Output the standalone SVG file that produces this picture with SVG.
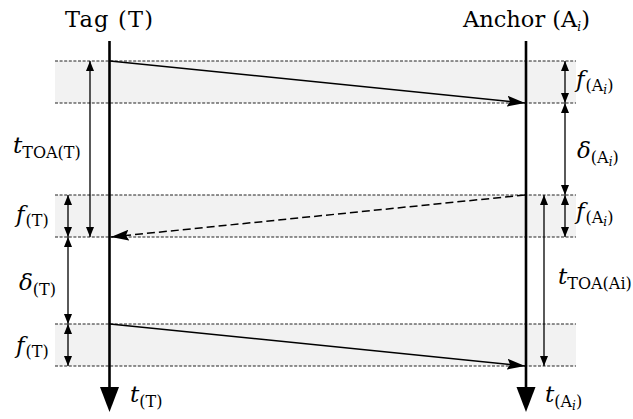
<svg xmlns="http://www.w3.org/2000/svg" width="633" height="419" viewBox="0 0 633 419">
<style>
  .band { fill: #f2f2f2; stroke: none; }
  .bline { stroke: #222; stroke-width: 1; stroke-dasharray: 3 1.6; fill: none; }
  .life { stroke: #000; stroke-width: 2.6; fill: none; }
  .msg { stroke: #000; stroke-width: 1.5; fill: none; marker-end: url(#msgHead); }
  .dashed { stroke-dasharray: 8 4; }
  .dim { stroke: #000; stroke-width: 1.3; fill: none; marker-start: url(#dimHead); marker-end: url(#dimHead); }
  .lbl { font-size: 22.5px; font-weight: 400; }
  .m { font-size: 23px; font-style: italic; font-weight: 400; }
  .s { font-size: 16px; font-style: normal; }
  .ss { font-size: 12px; font-style: italic; }
</style>
<defs>
  <marker id="msgHead" markerUnits="userSpaceOnUse" markerWidth="19" markerHeight="11" refX="18" refY="5.5" orient="auto" viewBox="0 0 19 11">
    <path d="M0,0 L18,5.5 L0,11 L3,5.5 z" fill="#000"/>
  </marker>
  <marker id="dimHead" markerUnits="userSpaceOnUse" markerWidth="11" markerHeight="8" refX="10" refY="4" orient="auto-start-reverse" viewBox="0 0 11 8">
    <path d="M0,0 L10,4 L0,8 z" fill="#000"/>
  </marker>
</defs>

<g id="bands">
  <rect class="band" x="55" y="61" width="521" height="42"/>
  <rect class="band" x="55" y="195" width="521" height="42"/>
  <rect class="band" x="55" y="324" width="521" height="42"/>
  <line class="bline" x1="55" y1="61" x2="576" y2="61"/>
  <line class="bline" x1="55" y1="103" x2="576" y2="103"/>
  <line class="bline" x1="55" y1="195" x2="576" y2="195"/>
  <line class="bline" x1="55" y1="237" x2="576" y2="237"/>
  <line class="bline" x1="55" y1="324" x2="576" y2="324"/>
  <line class="bline" x1="55" y1="366" x2="576" y2="366"/>
</g>

<g id="tag" font-family="'DejaVu Serif', serif" fill="#000">
  <text class="lbl" x="65" y="27" textLength="88" lengthAdjust="spacing">Tag (T)</text>
  <line class="life" x1="109.5" y1="41" x2="109.5" y2="392"/>
  <polygon points="100,387 119,387 109.5,412" fill="#000"/>
  <text class="m" x="130" y="402">t<tspan class="s" dy="5">(T)</tspan></text>
</g>

<g id="anchor" font-family="'DejaVu Serif', serif" fill="#000">
  <text class="lbl" x="463" y="27" textLength="127" lengthAdjust="spacing">Anchor (A<tspan class="ss" dy="4">i</tspan><tspan dy="-4">)</tspan></text>
  <line class="life" x1="526" y1="41" x2="526" y2="392"/>
  <polygon points="516.5,387 535.5,387 526,412" fill="#000"/>
  <text class="m" x="545" y="402">t<tspan class="s" dy="5">(A</tspan><tspan class="ss" dy="3">i</tspan><tspan class="s" dy="-3">)</tspan></text>
</g>

<g id="connectors">
  <line class="msg" x1="110" y1="61" x2="525" y2="103"/>
  <line class="msg dashed" x1="525" y1="195" x2="111" y2="237"/>
  <line class="msg" x1="110" y1="324" x2="525" y2="366"/>
  <line class="dim" x1="90" y1="61" x2="90" y2="237"/>
  <line class="dim" x1="68" y1="195" x2="68" y2="237"/>
  <line class="dim" x1="68" y1="237" x2="68" y2="324"/>
  <line class="dim" x1="68" y1="324" x2="68" y2="366"/>
  <line class="dim" x1="565" y1="61" x2="565" y2="103"/>
  <line class="dim" x1="565" y1="103" x2="565" y2="195"/>
  <line class="dim" x1="565" y1="195" x2="565" y2="237"/>
  <line class="dim" x1="544" y1="195" x2="544" y2="366"/>
</g>

<g id="labels" font-family="'DejaVu Serif', serif" fill="#000">
  <text class="m" x="13" y="153">t<tspan class="s" dy="5">TOA(T)</tspan></text>
  <text class="m" x="16" y="222">f<tspan class="s" dx="1" dy="4">(T)</tspan></text>
  <text class="m" x="19" y="290">δ<tspan class="s" dy="5">(T)</tspan></text>
  <text class="m" x="16" y="353">f<tspan class="s" dx="1" dy="4">(T)</tspan></text>
  <text class="m" x="576" y="87">f<tspan class="s" dx="1" dy="4">(A</tspan><tspan class="ss" dy="3">i</tspan><tspan class="s" dy="-3">)</tspan></text>
  <text class="m" x="577" y="158">δ<tspan class="s" dy="5">(A</tspan><tspan class="ss" dy="3">i</tspan><tspan class="s" dy="-3">)</tspan></text>
  <text class="m" x="576" y="219">f<tspan class="s" dx="1" dy="4">(A</tspan><tspan class="ss" dy="3">i</tspan><tspan class="s" dy="-3">)</tspan></text>
  <text class="m" x="558" y="284">t<tspan class="s" dy="5">TOA(A</tspan><tspan class="s" font-style="italic">i</tspan><tspan class="s">)</tspan></text>
</g>
</svg>
